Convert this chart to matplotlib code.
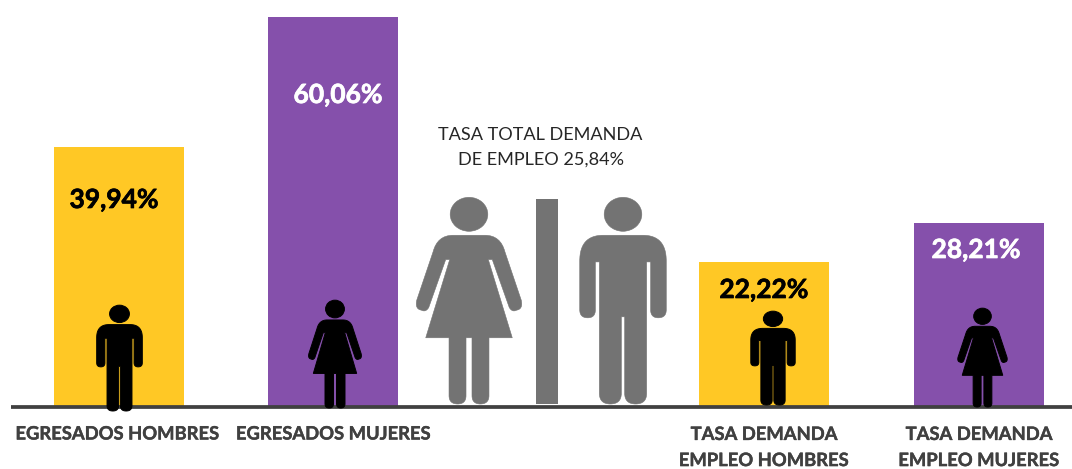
import numpy             as np
import matplotlib
matplotlib.use('Agg')
import matplotlib.pyplot as plt
import matplotlib.patheffects as pe
from matplotlib.path       import Path
from matplotlib.patches    import Ellipse, Polygon
from matplotlib.transforms import Affine2D

plt.rcParams['font.family'] = ['Lato', 'DejaVu Sans']

# Data
bar_labels   = ['EGRESADOS HOMBRES', 'EGRESADOS MUJERES',
                'TASA DEMANDA\nEMPLEO HOMBRES', 'TASA DEMANDA\nEMPLEO MUJERES']
bar_values   = [39.94, 60.06, 22.22, 28.21]
total_label  = 'TASA TOTAL DEMANDA\nDE EMPLEO 25,84%'

# Layout, all in pixels of the 1072x469 picture
BASE_PX      = 406
PX_PER_UNIT  = 6.48
bar_x        = [118.5, 333, 763.5, 978.5]
bar_w        = 130
bar_colors   = ['#FFC825', '#8550AB', '#FFC825', '#8550AB']
value_colors = ['black', 'white', 'black', 'white']
value_x      = [114, 338, 764, 976]
value_y      = [200, 95, 290, 250]
label_x      = [117.5, 333.5, 764, 979]
label_y      = [434, 434, 447.5, 447.5]
GREY         = '#737373'
DARK         = '#404040'


def Y(py):
    return (BASE_PX - py) / PX_PER_UNIT


# Half outlines of the icons, x from the centre and y up from the feet
L, C = Path.LINETO, Path.CURVE3
man_half = [
    (5, 262, Path.MOVETO), (5, 32, L), (5, 0, C), (38, 0, C), (71, 0, C), (71, 32, L),
    (71, 427, L), (83, 427, L), (83, 283, L), (83, 259, C), (106, 259, C), (130, 259, C),
    (130, 283, L), (130, 430, L), (130, 507, C), (60, 507, C), (0, 507, L),
]
woman_half = [
    (9, 199, Path.MOVETO), (9, 25, L), (9, 0, C), (34, 0, C), (60, 0, C), (60, 25, L),
    (60, 199, L), (130, 199, L), (58, 434, L), (70, 434, L), (121, 290, L),
    (130, 275, C), (143, 282, C), (163, 285, C), (157, 312, L), (108, 457, L),
    (95, 507, C), (48, 507, C), (0, 507, L),
]


def person(ax, half, cx, top, foot, color, xscale=1.0, edge=0.4):
    scale = (foot - top) / 622
    tr = (Affine2D().scale(scale * xscale, scale / PX_PER_UNIT)
          .translate(cx, Y(foot)) + ax.transData)
    verts = np.array([p[:2] for p in half], dtype=float)
    codes = [p[2] for p in half]
    pts = Path(verts, codes).to_polygons(closed_only=False)[0]
    outline = np.vstack([pts, (pts * [-1, 1])[::-1]])
    ax.add_patch(Polygon(outline, closed=True, facecolor=color, edgecolor=color, lw=edge,
                         transform=tr, zorder=4))
    ax.add_patch(Ellipse((0, 570), 113, 102, facecolor=color, edgecolor=color, lw=edge,
                         transform=tr, zorder=4))


fig = plt.figure(figsize=(10.72, 4.69), dpi=100)
ax = fig.add_axes([0, 0, 1, 1])
ax.set_xlim(0, 1072)
ax.set_ylim(Y(469), Y(0))
ax.axis('off')

ax.bar(bar_x, bar_values, width=bar_w, color=bar_colors, zorder=2)

# Baseline
ax.plot([11, 1072], [Y(407), Y(407)], color=DARK, lw=2.7, solid_capstyle='butt', zorder=3)

# Grey divider between the two big figures
ax.bar(547, Y(199) - Y(404), bottom=Y(404), width=22, color=GREY, zorder=2)

# Icons
person(ax, woman_half, 469, 197, 404, GREY)
person(ax, man_half, 623, 197, 404, GREY)
person(ax, man_half, 119.5, 305, 411, 'black', xscale=1.03, edge=0.7)
person(ax, woman_half, 335, 300, 408, 'black', xscale=0.96, edge=0.7)
person(ax, man_half, 773, 311, 405, 'black', xscale=1.13, edge=0.7)
person(ax, woman_half, 982.5, 308, 407, 'black', xscale=0.98, edge=0.7)

# Value labels
for x, y, v, c in zip(value_x, value_y, bar_values, value_colors):
    ax.text(x, Y(y), f"{v:.2f}%".replace('.', ','), ha='center', va='center',
            fontsize=19, fontweight='bold', color=c, zorder=5,
            path_effects=[pe.withStroke(linewidth=0.5, foreground=c)])

# Category labels
for x, y, s in zip(label_x, label_y, bar_labels):
    ax.text(x, Y(y), s, ha='center', va='center', fontsize=13.25, fontweight='bold',
            color=DARK, linespacing=1.65, zorder=5,
            path_effects=[pe.withStroke(linewidth=0.3, foreground=DARK)])

ax.text(540.5, Y(147.5), total_label, ha='center', va='center', fontsize=13.1,
        color='#262626', linespacing=1.7, zorder=5)

fig.savefig('out.png', dpi=100)
